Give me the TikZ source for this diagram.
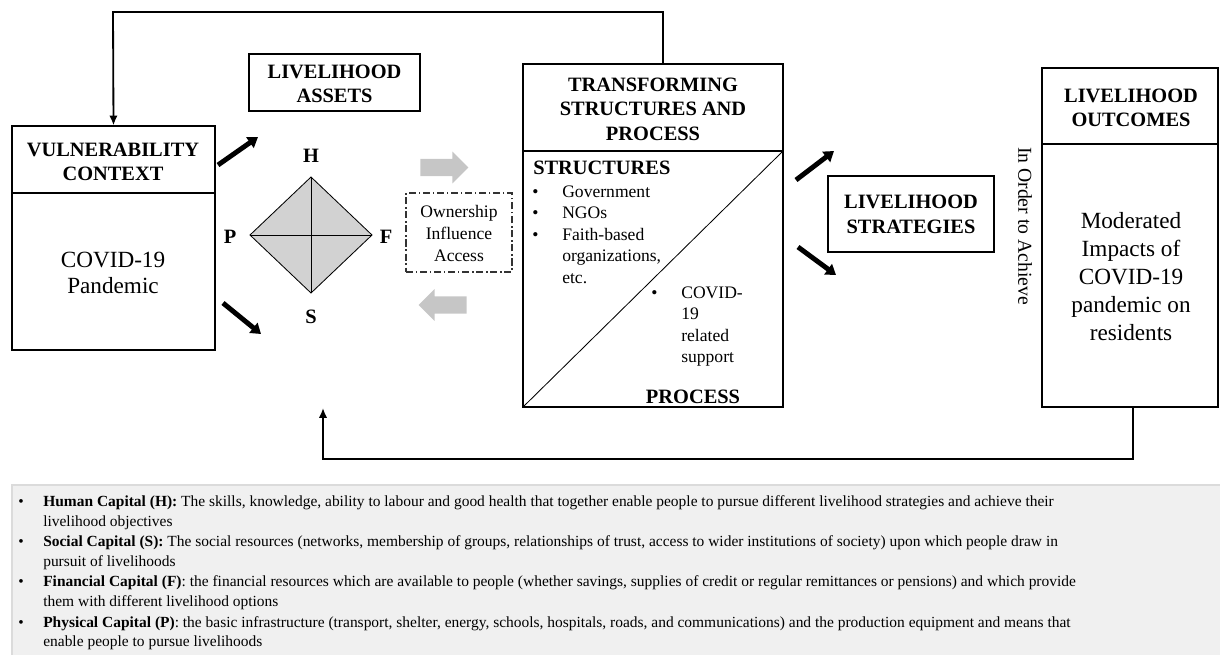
\documentclass[tikz,border=0pt]{standalone}
\usepackage{fontspec}
\setmainfont{Liberation Serif}
\usetikzlibrary{arrows.meta,shapes.arrows,fit,calc}

\begin{document}
\begin{tikzpicture}[x=0.025cm, y=-0.025cm,
  box/.style={draw, line width=0.9pt, inner sep=0pt},
  boxline/.style={line width=0.9pt},
  title/.style={font=\fontsize{14.5}{17}\selectfont\bfseries, inner sep=0pt, anchor=base},
  body/.style={font=\fontsize{16.5}{20}\selectfont, inner sep=0pt, anchor=base},
  small/.style={font=\fontsize{12.5}{15}\selectfont, inner sep=0pt, anchor=base west},
  smallc/.style={font=\fontsize{12.5}{15}\selectfont, inner sep=0pt, anchor=base},
  note/.style={font=\fontsize{11}{14}\selectfont, inner sep=0pt, anchor=base west},
  feedback/.style={line width=1.3pt, -{Latex[length=7pt,width=6pt]}},
  fat/.style={line width=3.5pt, -{Triangle[length=7pt,width=9pt]}},
  grayarrow/.style={single arrow, fill=gray!45, draw=none, inner xsep=0pt,
    inner ysep=0.21cm, minimum height=1.2cm, single arrow head extend=0.18cm,
    single arrow tip angle=90}
]

  % Fix the page to the reference size
  \useasboundingbox (0,0) rectangle (1220,654);

  % Vulnerability context box
  \node[box, fit={(12,126) (215,350)}] (vul) {};
  \draw[boxline] (12,193) -- (215,193);
  \node[title] (vult1) at (113,156) {VULNERABILITY};
  \node[title] (vult2) at (113,180) {CONTEXT};
  \node[body] (vulb1) at (113,267) {COVID-19};
  \node[body] (vulb2) at (113,293) {Pandemic};

  % Livelihood assets box
  \node[box, fit={(249,54) (420,111)}] (assets) {};
  \node[title] (ast1) at (334.5,78) {LIVELIHOOD};
  \node[title] (ast2) at (334.5,102) {ASSETS};

  % The asset pentagon, here a diamond
  \coordinate (H) at (311,177);
  \coordinate (F) at (372,235);
  \coordinate (S) at (311,293);
  \coordinate (P) at (250,235);
  \draw[fill=gray!35, line width=0.6pt] (H) -- (F) -- (S) -- (P) -- cycle;
  \draw[line width=0.6pt] (H) -- (S) (P) -- (F);
  \node[title] (lH) at (311,162) {H};
  \node[title] (lP) at (230,243) {P};
  \node[title] (lF) at (386,243) {F};
  \node[title] (lS) at (311,323) {S};

  % Arrows from the context to the assets
  \coordinate (va1) at (218,165);
  \coordinate (va2) at (258,137);
  \coordinate (vb1) at (223,303);
  \coordinate (vb2) at (261,334);
  \draw[fat] (va1) -- (va2);
  \draw[fat] (vb1) -- (vb2);

  % Grey arrows and the access box
  \node[grayarrow] (gright) at (440,167.5) {};
  \node[grayarrow, shape border rotate=180] (gleft) at (447,305) {};
  \node[box, draw=black!80, line width=0.8pt,
    dash pattern=on 5pt off 2pt on 1pt off 2pt, fit={(406,193) (512,272)}] (own) {};
  \node[smallc] (own1) at (459,217) {Ownership};
  \node[smallc] (own2) at (459,239) {Influence};
  \node[smallc] (own3) at (459,261) {Access};

  % Transforming structures and process box
  \node[box, fit={(523,64) (783,407)}] (trans) {};
  \draw[boxline] (523,151) -- (783,151);
  \draw[line width=0.6pt] (trans.south west) -- (783,151);
  \node[title] (tr1) at (653,91) {TRANSFORMING};
  \node[title] (tr2) at (653,115) {STRUCTURES AND};
  \node[title] (tr3) at (653,140) {PROCESS};
  \node[title, anchor=base west] (st) at (533,174) {STRUCTURES};
  \node[small] (b1) at (532,197) {•};
  \node[small] (b2) at (532,218) {•};
  \node[small] (b3) at (532,240) {•};
  \node[small] (s1) at (562,197) {Government};
  \node[small] (s2) at (562,218) {NGOs};
  \node[small] (s3) at (562,240) {Faith-based};
  \node[small] (s4) at (562,261) {organizations,};
  \node[small] (s5) at (562,283) {etc.};
  \node[small] (b4) at (651,298) {•};
  \node[small] (p1) at (681,298) {COVID-};
  \node[small] (p2) at (681,319) {19};
  \node[small] (p3) at (681,341) {related};
  \node[small] (p4) at (681,362) {support};
  \node[title] (pr) at (693,403) {PROCESS};

  % Arrows to the strategies
  \coordinate (ta1) at (796,180);
  \coordinate (ta2) at (834,151);
  \coordinate (tb1) at (798,247);
  \coordinate (tb2) at (836,275);
  \draw[fat] (ta1) -- (ta2);
  \draw[fat] (tb1) -- (tb2);

  % Livelihood strategies box
  \node[box, fit={(828,176) (994,252)}] (strat) {};
  \node[title] (sg1) at (911,208) {LIVELIHOOD};
  \node[title] (sg2) at (911,233) {STRATEGIES};

  \node[font=\fontsize{14}{17}\selectfont, inner sep=0pt, rotate=-90] (achieve) at (1025,226) {In Order to Achieve};

  % Livelihood outcomes box
  \node[box, fit={(1042,68) (1218,407)}] (out) {};
  \draw[boxline] (1042,144) -- (1218,144);
  \node[title] (ot1) at (1131,102) {LIVELIHOOD};
  \node[title] (ot2) at (1131,126) {OUTCOMES};
  \node[body] (ob1) at (1131,228) {Moderated};
  \node[body] (ob2) at (1131,256) {Impacts of};
  \node[body] (ob3) at (1131,284) {COVID-19};
  \node[body] (ob4) at (1131,312) {pandemic on};
  \node[body] (ob5) at (1131,340) {residents};

  % Feedback loops
  \draw[feedback] ($(trans.north)+(10,0)$) |- (113,12) -- (vul.north);
  \coordinate (back) at (323,408);
  \draw[feedback] (out.south -| 1133,0) |- (323,459) -- (back);

  % Legend
  \node[fill=black!6, draw=black!14, line width=0.8pt, inner sep=0pt, fit={(12,485) (1226,660)}] (legend) {};
  \foreach \y in {506,546,586,627}
    \node[note] at (18,\y) {•};
  \node[note] (n1) at (43,506) {\textbf{Human Capital (H):} The skills, knowledge, ability to labour and good health that together enable people to pursue different livelihood strategies and achieve their};
  \node[note] (n2) at (43,526) {livelihood objectives};
  \node[note] (n3) at (43,546) {\textbf{Social Capital (S):} The social resources (networks, membership of groups, relationships of trust, access to wider institutions of society) upon which people draw in};
  \node[note] (n4) at (43,566) {pursuit of livelihoods};
  \node[note] (n5) at (43,586) {\textbf{Financial Capital (F)}: the financial resources which are available to people (whether savings, supplies of credit or regular remittances or pensions) and which provide};
  \node[note] (n6) at (43,606) {them with different livelihood options};
  \node[note] (n7) at (43,627) {\textbf{Physical Capital (P)}: the basic infrastructure (transport, shelter, energy, schools, hospitals, roads, and communications) and the production equipment and means that};
  \node[note] (n8) at (43,646) {enable people to pursue livelihoods};

\end{tikzpicture}
\end{document}
